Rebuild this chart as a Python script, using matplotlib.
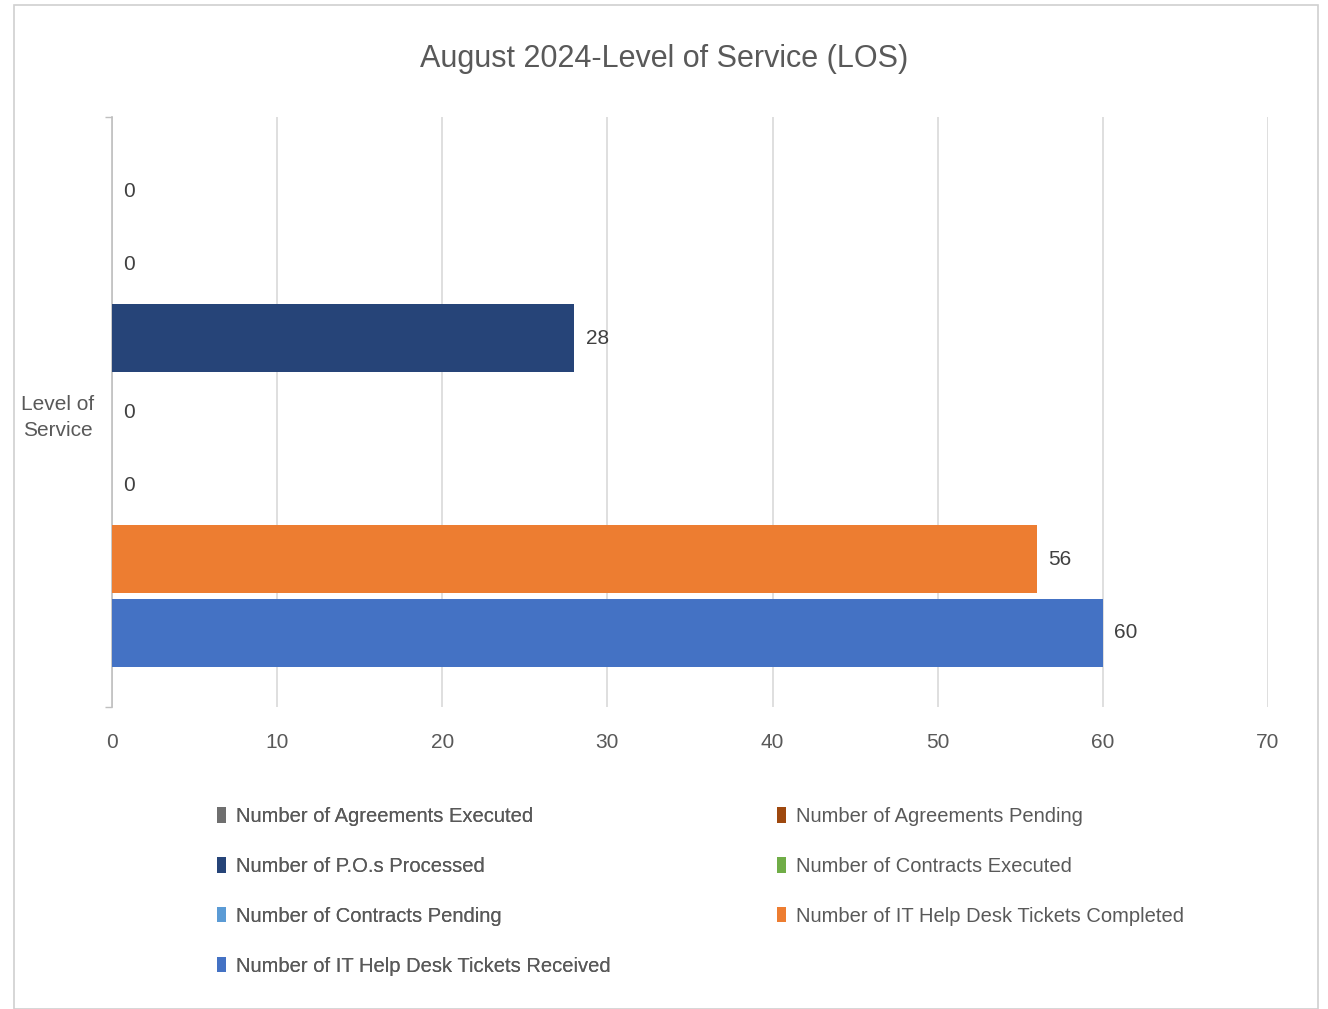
import matplotlib
matplotlib.use("Agg")
import matplotlib.pyplot as plt
from matplotlib.patches import Patch, Rectangle

plt.rcParams['font.family'] = ['Liberation Sans', 'DejaVu Sans']

# data
category = "Level of\nService"
series_names = [
    "Number of Agreements Executed",
    "Number of Agreements Pending",
    "Number of P.O.s Processed",
    "Number of Contracts Executed",
    "Number of Contracts Pending",
    "Number of IT Help Desk Tickets Completed",
    "Number of IT Help Desk Tickets Received",
]
series_values = [0, 0, 28, 0, 0, 56, 60]
series_colors = ["#6F6F6F", "#9E480E", "#264478", "#70AD47",
                 "#5B9BD5", "#ED7D31", "#4472C4"]
x_ticks = [0, 10, 20, 30, 40, 50, 60, 70]

text_col = "#595959"
grid_col = "#D9D9D9"

fig = plt.figure(figsize=(13.28, 10.09), dpi=100)
fig.patches.append(Rectangle((14 / 1328, 0), 1304 / 1328, 1004 / 1009,
                             transform=fig.transFigure, fill=False,
                             edgecolor="#D0D0D0", linewidth=1.2))

ax = fig.add_axes([112 / 1328, 1 - 707 / 1009, 1156 / 1328, 590 / 1009])

n = len(series_values)
offsets = [i - (n - 1) / 2 for i in range(n)]
for off, val, col, name in zip(offsets, series_values, series_colors, series_names):
    b = ax.barh(off, val, height=0.925, color=col, label=name, zorder=3)
    ax.bar_label(b, labels=[str(val)], padding=8, fontsize=15, color="#404040")

half = 4.01
ax.set_ylim(half, -half)
ax.set_xlim(0, 70)
ax.set_xticks(x_ticks)
ax.set_xticklabels([str(t) for t in x_ticks], fontsize=15, color=text_col)
ax.tick_params(axis="x", length=0, pad=19)
ax.set_yticks([0])
ax.set_yticklabels([category], fontsize=15, color=text_col, linespacing=1.5,
                   multialignment="center")
ax.tick_params(axis="y", which="major", length=0, pad=13)
ax.set_yticks([-half, half], minor=True)
ax.tick_params(axis="y", which="minor", length=5, color="#BFBFBF", width=1)

ax.grid(axis="x", color=grid_col, linewidth=1.2, zorder=0)
for s in ["top", "right", "bottom"]:
    ax.spines[s].set_visible(False)
ax.spines["left"].set_color("#BFBFBF")
ax.spines["left"].set_linewidth(1.2)

fig.text(0.5, 1 - 59 / 1009, "August 2024-Level of Service (LOS)",
         ha="center", va="center", fontsize=22, color=text_col)

handles = [Patch(facecolor=c, edgecolor="none") for c in series_colors]
left_idx = [0, 2, 4, 6]
right_idx = [1, 3, 5]
common = dict(frameon=False, fontsize=14.5, handlelength=0.45, handleheight=0.8,
              handletextpad=0.5, labelspacing=1.53, borderpad=0, labelcolor=text_col)
leg1 = fig.legend([handles[i] for i in left_idx], [series_names[i] for i in left_idx],
                  loc="upper left", bbox_to_anchor=(207 / 1328, 1 - 797 / 1009), **common)
fig.add_artist(leg1)
fig.legend([handles[i] for i in right_idx], [series_names[i] for i in right_idx],
           loc="upper left", bbox_to_anchor=(767 / 1328, 1 - 797 / 1009), **common)

fig.savefig("out.png", dpi=100)
